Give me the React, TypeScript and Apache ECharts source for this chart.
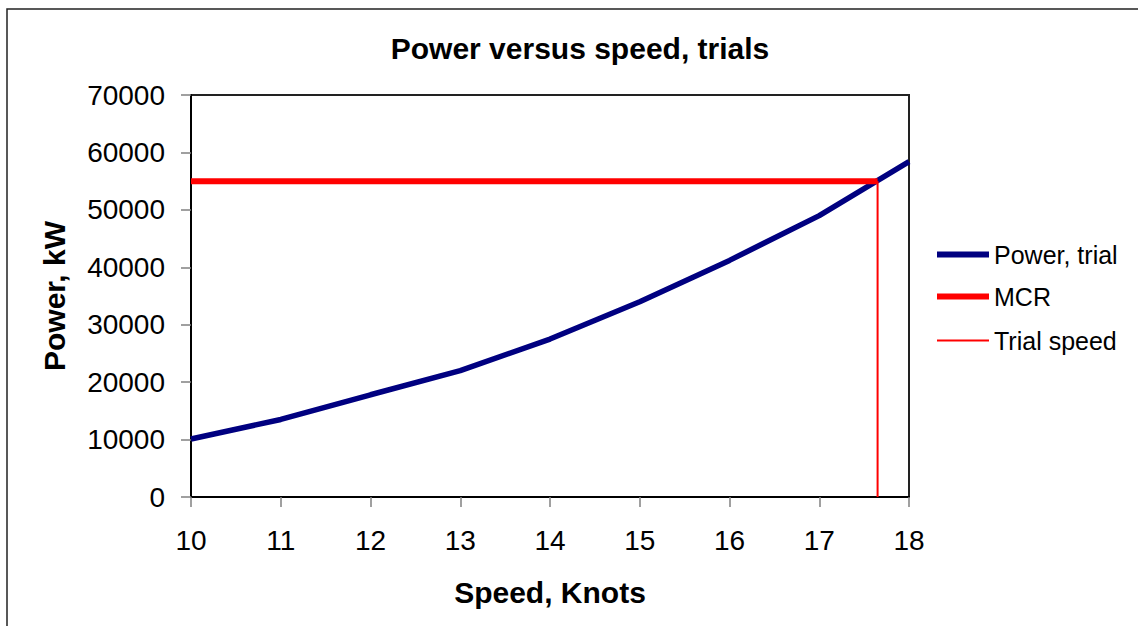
import React, { useEffect, useRef } from "react";
import * as echarts from "echarts";

const speeds = [10, 11, 12, 13, 14, 15, 16, 17, 18];
const powerTrial = [10100, 13500, 17800, 22000, 27500, 34000, 41200, 49000, 58400];
const mcrPower = 55000;
const trialSpeed = 17.65;
const mcrSpeeds = [10, trialSpeed];
const trialPowers = [0, mcrPower];
const seriesNames = ["Power, trial", "MCR", "Trial speed"];

const FONT = "'Liberation Sans', Arial, sans-serif";

export default function App() {
  const ref = useRef<HTMLDivElement>(null);
  useEffect(() => {
    if (!ref.current) return;
    const chart = echarts.init(ref.current, null, { renderer: "svg" });
    const powerData = speeds.map((s, i) => [s, powerTrial[i]]);
    const mcrData = mcrSpeeds.map((s) => [s, mcrPower]);
    const trialData = trialPowers.map((p) => [trialSpeed, p]);
    chart.setOption({
      animation: false,
      backgroundColor: "#ffffff",
      textStyle: { fontFamily: FONT, color: "#000" },
      title: {
        text: "Power versus speed, trials",
        left: 580,
        top: 33,
        textAlign: "center",
        padding: 0,
        textStyle: { fontSize: 30, fontWeight: "bold", color: "#000", fontFamily: FONT },
      },
      grid: {
        left: 191,
        top: 95,
        right: 229,
        bottom: 129,
        show: true,
        borderColor: "#222",
        borderWidth: 2,
        backgroundColor: "transparent",
      },
      legend: [
        {
          orient: "vertical",
          left: 937,
          top: 242,
          padding: 0,
          itemWidth: 52,
          itemHeight: 6,
          itemGap: 17,
          icon: "rect",
          data: [seriesNames[0], seriesNames[1]],
          textStyle: { fontSize: 25, color: "#000", fontFamily: FONT },
          selectedMode: false,
        },
        {
          orient: "vertical",
          left: 937,
          top: 328,
          padding: 0,
          itemWidth: 52,
          itemHeight: 2,
          icon: "rect",
          data: [seriesNames[2]],
          textStyle: { fontSize: 25, color: "#000", fontFamily: FONT },
          selectedMode: false,
        },
      ],
      xAxis: {
        type: "value",
        min: 10,
        max: 18,
        interval: 1,
        name: "Speed, Knots",
        nameLocation: "middle",
        nameGap: 80,
        nameTextStyle: { fontSize: 30, fontWeight: "bold", color: "#000", fontFamily: FONT },
        axisLine: { show: true, lineStyle: { color: "#000", width: 2 } },
        axisTick: { show: true, length: 10, lineStyle: { color: "#808080", width: 1.5 } },
        axisLabel: { fontSize: 28, color: "#000", margin: 29, fontFamily: FONT },
        splitLine: { show: false },
      },
      yAxis: {
        type: "value",
        min: 0,
        max: 70000,
        interval: 10000,
        name: "Power, kW",
        nameLocation: "middle",
        nameGap: 122,
        nameRotate: 90,
        nameTextStyle: { fontSize: 30, fontWeight: "bold", color: "#000", fontFamily: FONT },
        axisLine: { show: true, lineStyle: { color: "#000", width: 2 } },
        axisTick: { show: true, length: 10, lineStyle: { color: "#808080", width: 1.5 } },
        axisLabel: { fontSize: 28, color: "#000", margin: 26, fontFamily: FONT, formatter: (v: number) => String(v) },
        splitLine: { show: false },
      },
      series: [
        {
          name: seriesNames[0],
          type: "line",
          data: powerData,
          symbol: "none",
          lineStyle: { color: "#000080", width: 5.5 },
          itemStyle: { color: "#000080" },
        },
        {
          name: seriesNames[1],
          type: "line",
          data: mcrData,
          symbol: "none",
          lineStyle: { color: "#ff0000", width: 6 },
          itemStyle: { color: "#ff0000" },
        },
        {
          name: seriesNames[2],
          type: "line",
          data: trialData,
          symbol: "none",
          lineStyle: { color: "#ff0000", width: 2 },
          itemStyle: { color: "#ff0000" },
        },
      ],
      graphic: [
        {
          type: "rect",
          silent: true,
          shape: { x: 7, y: 9, width: 1300, height: 800 },
          style: { fill: "none", stroke: "#222", lineWidth: 1.5 },
        },
      ],
    });
    return () => chart.dispose();
  }, []);
  return (
    <div
      ref={ref}
      style={{ position: "absolute", left: 0, top: 0, width: 1138, height: 626, background: "#fff" }}
    />
  );
}
